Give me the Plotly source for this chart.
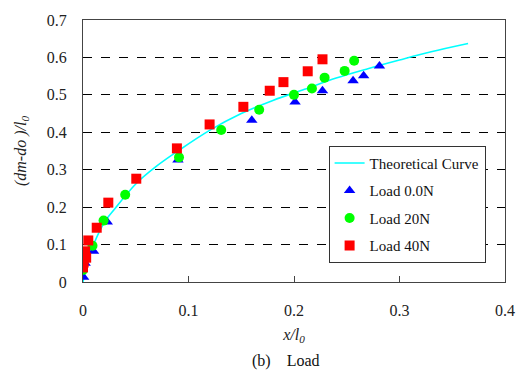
import plotly.graph_objects as go

# Theoretical curve
curve_x = [0, 0.005, 0.01, 0.02, 0.03, 0.05, 0.07, 0.09, 0.12, 0.15, 0.18, 0.21, 0.24, 0.27, 0.30, 0.33, 0.365]
curve_y = [0, 0.06, 0.10, 0.158, 0.195, 0.262, 0.31, 0.35, 0.405, 0.45, 0.485, 0.515, 0.545, 0.57, 0.593, 0.615, 0.637]

# Load 0.0N
l0_x = [0.0006, 0.002, 0.010, 0.023, 0.090, 0.160, 0.201, 0.227, 0.256, 0.266, 0.281]
l0_y = [0.013, 0.050, 0.082, 0.160, 0.326, 0.432, 0.481, 0.511, 0.538, 0.551, 0.577]

# Load 20N
l20_x = [0.0, 0.009, 0.0195, 0.040, 0.091, 0.131, 0.167, 0.200, 0.217, 0.229, 0.248, 0.257]
l20_y = [0.032, 0.097, 0.164, 0.233, 0.333, 0.406, 0.460, 0.500, 0.517, 0.546, 0.564, 0.591]

# Load 40N
l40_x = [0.0, 0.0006, 0.003, 0.002, 0.005, 0.013, 0.024, 0.0505, 0.089, 0.120, 0.152, 0.177, 0.190, 0.213, 0.227]
l40_y = [0.039, 0.052, 0.065, 0.082, 0.111, 0.145, 0.212, 0.276, 0.357, 0.421, 0.468, 0.511, 0.534, 0.563, 0.595]

x_ticks = [0, 0.1, 0.2, 0.3, 0.4]
y_ticks = [0, 0.1, 0.2, 0.3, 0.4, 0.5, 0.6, 0.7]

FONT = "Liberation Serif"

fig = go.Figure()
fig.add_trace(go.Scatter(x=curve_x, y=curve_y, mode="lines", name="Theoretical Curve",
                         line=dict(color="#00FFFF", width=1.6, shape="spline"),
                         legendgroup="a"))
fig.add_trace(go.Scatter(x=l0_x, y=l0_y, mode="markers", name="Load 0.0N",
                         marker=dict(symbol="triangle-up", color="#0000FF", size=10),
                         legendgroup="b"))
fig.add_trace(go.Scatter(x=l20_x, y=l20_y, mode="markers", name="Load 20N",
                         marker=dict(symbol="circle", color="#00FF00", size=10),
                         legendgroup="c"))
fig.add_trace(go.Scatter(x=l40_x, y=l40_y, mode="markers", name="Load 40N",
                         marker=dict(symbol="square", color="#FF0000", size=10),
                         legendgroup="d"))

fig.update_layout(
    width=528, height=376,
    margin=dict(l=83, r=23, t=12, b=94),
    paper_bgcolor="white", plot_bgcolor="white",
    font=dict(family=FONT, size=16, color="#222"),
    showlegend=True,
    legend=dict(x=0.582, y=0.52, xanchor="left", yanchor="top",
                bgcolor="white", bordercolor="#333", borderwidth=1,
                font=dict(family=FONT, size=15, color="#111"),
                traceorder="grouped", tracegroupgap=5),
    xaxis=dict(range=[0, 0.4], tickvals=x_ticks, ticktext=[str(v) for v in x_ticks],
               showgrid=False, zeroline=False, showline=True, linecolor="#444", linewidth=1,
               mirror=True, ticks="inside", ticklen=6, tickcolor="#444",
               ticklabelstandoff=14,
               title=dict(text="<i>x/l<sub>0</sub></i>", font=dict(family=FONT, size=16), standoff=10)),
    yaxis=dict(range=[0, 0.7], tickvals=y_ticks, ticktext=[str(v) for v in y_ticks],
               showgrid=True, gridcolor="black", griddash="dash", gridwidth=1,
               zeroline=False, showline=True, linecolor="#444", linewidth=1, mirror=True,
               ticks="", ticklabelstandoff=12,
               title=dict(text="<i>(dm-do )/l<sub>0</sub></i>", font=dict(family=FONT, size=16), standoff=16)),
    annotations=[dict(text="(b)    Load", xref="paper", yref="paper", x=0.48, y=-0.3,
                      xanchor="center", yanchor="middle", showarrow=False,
                      font=dict(family=FONT, size=16, color="#111"))],
)

fig.write_html("out.html")
